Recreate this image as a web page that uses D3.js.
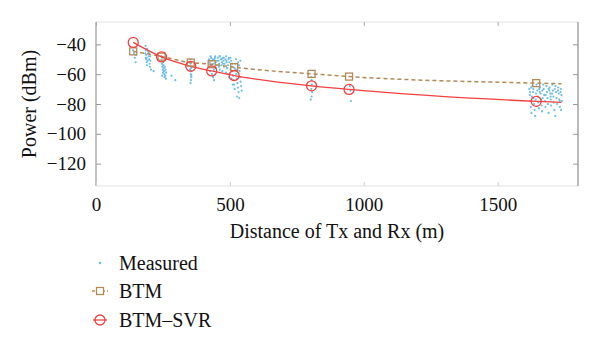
<!DOCTYPE html>
<html><head><meta charset="utf-8">
<script src="https://cdn.jsdelivr.net/npm/d3@7"></script>
<style>body{margin:0;background:#fff}svg{display:block}text{font-family:"Liberation Serif","Times New Roman",serif;fill:#111}</style>
</head><body><svg id="c" width="600" height="348"></svg>
<script>
// ---- data ----
const xTicks = [0, 500, 1000, 1500];
const yTicks = [-40, -60, -80, -100, -120];
const lineDist = [139, 245, 354, 432, 516, 805, 945, 1644, 1738];
const btmVals  = [-44.7, -48.2, -52.2, -53.3, -55.3, -59.8, -61.6, -66.0, -66.4];
const svrVals  = [-38.7, -48.4, -54.7, -57.8, -60.9, -67.8, -70.2, -78.2, -78.9];
const markerCount = 8;
const measuredD = [142,145,150,148,138,
 185,186,187,188,189,190,184,186,191,195,197,199,200,201,198,203,205,215,
 243,245,246,248,249,250,251,252,253,254,255,256,247,258,260,262,257,261,282,296,
 352,353,354,355,354,356,355,353,357,351,
 422,425,428,430,432,435,438,440,442,445,447,449,433,437,441,426,
 455,458,460,463,466,468,470,473,476,478,480,483,486,488,490,493,495,498,462,472,485,492,497,
 502,505,508,510,512,514,516,518,520,522,524,526,528,530,532,534,536,538,540,542,544,506,511,527,535,503,
 803,805,806,804,807,805,802,
 948,950,952,
 1618,1620,1622,1624,1626,1630,1632,1634,1636,1638,1640,1645,1648,1650,1652,1654,
 1658,1660,1662,1664,1666,1670,1672,1674,1676,1678,1682,1684,1686,1688,1690,
 1694,1696,1698,1700,1704,1706,1708,1710,1712,1716,1718,1720,1722,
 1726,1728,1730,1732,1736,1738,1740,1737,1625,1655,1690,1715,
 1621,1633,1643,1657,1667,1679,1693,1703,1713,1725,1735,1628,1642,1668,1698,1732,
 428,436,444,452,461,469,477,487,496,509,517,523,531,539,448,459,474,489,
 247,251,255,259,189,193,202,354,356];
const measuredP = [-46,-49,-47,-52,-44,
 -41,-44,-47,-50,-52,-54,-46,-49,-43,-45,-48,-50,-53,-55,-46,-51,-57,-58,
 -48,-51,-53,-55,-57,-59,-52,-54,-56,-58,-60,-62,-61,-55,-57,-59,-50,-63,-61,-64,
 -50,-53,-56,-58,-60,-62,-64,-66,-55,-57,
 -50,-52,-54,-49,-51,-55,-53,-57,-50,-48,-52,-56,-60,-62,-64,-58,
 -49,-51,-53,-48,-50,-54,-52,-49,-51,-55,-53,-50,-48,-52,-56,-54,-50,-52,-57,-58,-59,-60,-62,
 -49,-51,-55,-58,-61,-64,-67,-70,-53,-57,-60,-63,-66,-69,-72,-54,-58,-62,-65,-68,-71,-63,-67,-75,-76,-57,
 -62,-64,-67,-70,-72,-75,-77,
 -68,-71,-78,
 -70,-74,-78,-82,-86,-68,-72,-76,-80,-84,-88,-67,-71,-75,-79,-83,
 -69,-73,-77,-81,-85,-67,-70,-74,-78,-82,-68,-72,-76,-80,-86,
 -69,-73,-77,-81,-67,-71,-75,-79,-84,-68,-72,-76,-80,
 -69,-73,-77,-82,-70,-74,-78,-84,-69,-70,-70,-88,
 -72,-70,-73,-72,-71,-74,-71,-73,-70,-71,-72,-75,-77,-76,-75,-78,
 -48,-50,-49,-51,-48,-50,-49,-51,-49,-53,-56,-50,-52,-51,-54,-55,-53,-56,
 -49,-54,-58,-61,-49,-51,-48,-52,-61];
const legendLabels = ["Measured", "BTM", "BTM\u2013SVR"];

// ---- drawing ----
const svg = d3.select("#c");
const L = 96, R = 578, T = 22, B = 186;
const x = d3.scaleLinear().domain([0, 1800]).range([L, R]);
const y = d3.scaleLinear().domain([-135, -25]).range([B, T]);
const red = "#f2413f", brown = "#b38a57", blue = "#6fbde4";
const FONT = '"Liberation Serif","Times New Roman",serif';

// box lines
svg.append("line").attr("x1", L).attr("x2", R).attr("y1", T).attr("y2", T).attr("stroke", "#e2e2e2");
svg.append("line").attr("x1", L).attr("x2", R).attr("y1", B).attr("y2", B).attr("stroke", "#e2e2e2");
svg.append("line").attr("x1", L).attr("x2", L).attr("y1", T).attr("y2", B).attr("stroke", "#9a9a9a").attr("stroke-width", 1.2);
svg.append("line").attr("x1", R).attr("x2", R).attr("y1", T).attr("y2", B).attr("stroke", "#8a8a8a").attr("stroke-width", 1.2);

// axes via d3
const fmt = d => d < 0 ? "\u2212" + Math.abs(d) : String(d);
const ax = svg.append("g").attr("transform", `translate(0,${B})`)
  .call(d3.axisBottom(x).tickValues(xTicks).tickSize(-4).tickPadding(12).tickFormat(fmt));
const axTop = svg.append("g").attr("transform", `translate(0,${T})`)
  .call(d3.axisTop(x).tickValues(xTicks).tickSize(-4).tickFormat(""));
const ay = svg.append("g").attr("transform", `translate(${L},0)`)
  .call(d3.axisLeft(y).tickValues(yTicks).tickSize(-5).tickPadding(10).tickFormat(fmt));
const ayR = svg.append("g").attr("transform", `translate(${R},0)`)
  .call(d3.axisRight(y).tickValues(yTicks).tickSize(-5).tickFormat(""));
[ax, axTop, ay, ayR].forEach(g => {
  g.attr("font-family", FONT).attr("font-size", 19);
  g.select(".domain").remove();
  g.selectAll(".tick line").attr("stroke", "#9a9a9a");
  g.selectAll(".tick text").attr("fill", "#111");
});
ax.selectAll(".tick line").attr("stroke", "#cfcfcf");
axTop.selectAll(".tick line").attr("stroke", "#aaa");

// axis titles
svg.append("text").attr("x", (L + R) / 2).attr("y", 238).attr("text-anchor", "middle")
  .attr("font-family", FONT).attr("font-size", 20).text("Distance of Tx and Rx (m)");
svg.append("text").attr("transform", "translate(36,104) rotate(-90)").attr("text-anchor", "middle")
  .attr("font-family", FONT).attr("font-size", 20).text("Power (dBm)");

// measured
svg.append("g").selectAll("circle").data(measuredD).join("circle")
  .attr("cx", (d, i) => x(d)).attr("cy", (d, i) => y(measuredP[i])).attr("r", 1.1)
  .attr("fill", blue);

// lines
const pts = v => lineDist.map((d, i) => [x(d), y(v[i])]);
const lg = d3.line().curve(d3.curveMonotoneX);
svg.append("path").attr("d", lg(pts(btmVals))).attr("fill", "none").attr("stroke", brown)
  .attr("stroke-width", 1.5).attr("stroke-dasharray", "4,3");
svg.append("path").attr("d", lg(pts(svrVals))).attr("fill", "none").attr("stroke", red)
  .attr("stroke-width", 1.3);

// markers
const mk = lineDist.slice(0, markerCount);
svg.append("g").selectAll("rect").data(mk).join("rect")
  .attr("x", (d) => x(d) - 3.5).attr("y", (d, i) => y(btmVals[i]) - 3.5)
  .attr("width", 7).attr("height", 7).attr("fill", "none").attr("stroke", brown).attr("stroke-width", 1.3);
svg.append("g").selectAll("circle").data(mk).join("circle")
  .attr("cx", (d) => x(d)).attr("cy", (d, i) => y(svrVals[i])).attr("r", 5)
  .attr("fill", "none").attr("stroke", red).attr("stroke-width", 1.3);

// legend
const lgY = [263, 291, 320];
const leg = svg.append("g");
leg.append("circle").attr("cx", 100).attr("cy", lgY[0]).attr("r", 1.3).attr("fill", blue);
leg.append("line").attr("x1", 92).attr("x2", 108).attr("y1", lgY[1]).attr("y2", lgY[1])
  .attr("stroke", brown).attr("stroke-width", 1.3).attr("stroke-dasharray", "3,2");
leg.append("rect").attr("x", 96.5).attr("y", lgY[1] - 3.5).attr("width", 7).attr("height", 7)
  .attr("fill", "#fff").attr("stroke", brown).attr("stroke-width", 1.3);
leg.append("line").attr("x1", 93).attr("x2", 107).attr("y1", lgY[2]).attr("y2", lgY[2])
  .attr("stroke", red).attr("stroke-width", 1.3);
leg.append("circle").attr("cx", 100).attr("cy", lgY[2]).attr("r", 5)
  .attr("fill", "none").attr("stroke", red).attr("stroke-width", 1.3);
leg.selectAll("text").data(legendLabels).join("text")
  .attr("x", 119).attr("y", (d, i) => lgY[i] + 7).attr("font-family", FONT).attr("font-size", 20).text(d => d);
</script></body></html>
